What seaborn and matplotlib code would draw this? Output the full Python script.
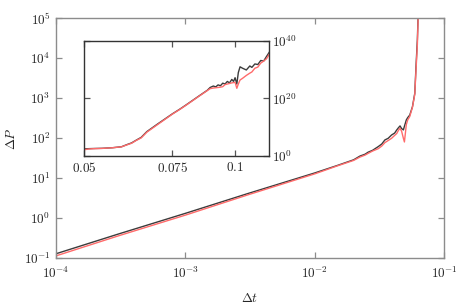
import numpy as np
import pandas as pd
import matplotlib
matplotlib.use("Agg")
import matplotlib.pyplot as plt
import matplotlib.ticker as mticker
import seaborn as sns

# ---- data ----
dt = [1e-4, 3e-4, 1e-3, 3e-3, 1e-2, 1.5e-2, 2.0e-2, 2.24e-2, 2.45e-2, 2.59e-2,
      2.8e-2, 3.1e-2, 3.3e-2, 3.49e-2, 3.7e-2, 3.93e-2, 4.15e-2, 4.31e-2, 4.45e-2,
      4.57e-2, 4.7e-2, 4.85e-2, 4.94e-2, 5.11e-2, 5.24e-2, 5.43e-2, 5.7e-2, 5.94e-2,
      6.07e-2, 6.22e-2, 6.35e-2, 6.5e-2, 6.67e-2, 7.0e-2, 7.5e-2, 7.77e-2, 8.0e-2,
      8.5e-2, 8.8e-2,
      0.0892, 0.0905, 0.0915, 0.0925, 0.0935, 0.0945, 0.0955, 0.0965, 0.0975,
      0.0985, 0.0993, 0.1000, 0.1008, 0.1015, 0.1023, 0.1035, 0.1053, 0.1070,
      0.1080, 0.1095, 0.1110, 0.1125, 0.1140, 0.1155, 0.1173]

dp_black = [0.13, 0.40, 1.33, 4.1, 13.6, 21, 29, 36, 40, 45,
            50, 62, 72, 91, 100, 121, 135, 162, 185,
            204, 175, 162, 200, 288, 330, 380, 615, 1330,
            6100, 2.9e4, 2.5e5, 2.5e6, 2.5e8, 1e11, 4e14, 2e16, 6.3e17,
            1e21, 6.3e22,
            6.3e23, 2e24, 1e24, 5e24, 2.5e24, 2e25, 1e25, 8e25, 2.5e25,
            4e26, 8e25, 1.6e27, 1e25, 1e29, 1e31, 3.2e30, 8e29, 2e31,
            6.3e30, 1e32, 6.3e31, 1.6e33, 1e33, 4e34, 2.5e36]

dp_red = [0.115, 0.36, 1.2, 3.8, 12.9, 20.5, 28, 34, 38, 42,
          48, 55, 64, 78, 88, 100, 118, 132, 160,
          178, 150, 100, 81, 220, 288, 350, 600, 1250,
          5000, 2.2e4, 2e5, 1.6e6, 1.6e8, 6.3e10, 3.2e14, 1.6e16, 5e17,
          8e20, 5e22,
          2.5e23, 4e23, 5e23, 6.3e23, 8e23, 1.2e24, 6.3e24, 1e25, 1.6e25,
          2.5e25, 3.2e25, 4e25, 3.2e23, 1e25, 2.5e26, 1e27, 1e28, 6.3e28,
          1.6e29, 3.2e30, 8e30, 2e32, 1e33, 6.3e33, 5e35]

series_names = ["black", "red"]
series_colors = ["#3c3c3c", "#ff6b6b"]

main_xticks = [1e-4, 1e-3, 1e-2, 1e-1]
main_yticks = [1e-1, 1e0, 1e1, 1e2, 1e3, 1e4, 1e5]
inset_xticks = [0.05, 0.075, 0.1]
inset_xticklabels = ["$0.05$", "$0.075$", "$0.1$"]
inset_yticks = [1e0, 1e20, 1e40]

df = pd.DataFrame({
    "dt": dt + dt,
    "dp": dp_black + dp_red,
    "series": [series_names[0]] * len(dt) + [series_names[1]] * len(dt),
})

sns.set_style("ticks")
plt.rcParams["mathtext.fontset"] = "cm"
plt.rcParams["font.family"] = ["DejaVu Serif"]

FS = 9.5


def pow10(v, pos):
    return r"$10^{%d}$" % int(round(np.log10(v)))


fig = plt.figure(figsize=(4.58, 3.07), dpi=100)
ax = fig.add_axes([0.1223, 0.1586, 0.8472, 0.7818])

sns.lineplot(data=df, x="dt", y="dp", hue="series", palette=series_colors,
             estimator=None, sort=False, linewidth=1.0, legend=False, ax=ax)
ax.set_xscale("log")
ax.set_yscale("log")
ax.set_xlim(1e-4, 1e-1)
ax.set_ylim(1e-1, 1e5)
ax.xaxis.set_major_locator(mticker.FixedLocator(main_xticks))
ax.yaxis.set_major_locator(mticker.FixedLocator(main_yticks))
ax.xaxis.set_major_formatter(mticker.FuncFormatter(pow10))
ax.yaxis.set_major_formatter(mticker.FuncFormatter(pow10))
ax.xaxis.set_minor_locator(mticker.NullLocator())
ax.yaxis.set_minor_locator(mticker.NullLocator())
gray = "#8c8c8c"
for s in ax.spines.values():
    s.set_visible(True)
    s.set_color(gray)
    s.set_linewidth(1.0)
ax.tick_params(which="both", direction="in", top=True, right=True,
               length=4, width=0.9, color=gray, labelsize=FS)
ax.tick_params(axis="x", pad=5)
ax.tick_params(axis="y", pad=4)
ax.set_xlabel(r"$\Delta t$", fontsize=FS, labelpad=8)
ax.set_ylabel(r"$\Delta P$", fontsize=FS, labelpad=4)

# ---- inset ----
axi = fig.add_axes([0.1834, 0.4928, 0.4046, 0.3736])
sns.lineplot(data=df, x="dt", y="dp", hue="series", palette=series_colors,
             estimator=None, sort=False, linewidth=1.0, legend=False, ax=axi)
axi.set_xscale("log")
axi.set_yscale("log")
axi.set_xlim(0.05, 0.117)
axi.set_ylim(1e0, 1e40)
axi.xaxis.set_major_locator(mticker.FixedLocator(inset_xticks))
axi.xaxis.set_major_formatter(mticker.FixedFormatter(inset_xticklabels))
axi.yaxis.set_major_locator(mticker.FixedLocator(inset_yticks))
axi.yaxis.set_major_formatter(mticker.FuncFormatter(pow10))
axi.xaxis.set_minor_locator(mticker.NullLocator())
axi.yaxis.set_minor_locator(mticker.NullLocator())
for s in axi.spines.values():
    s.set_visible(True)
    s.set_color("#333333")
    s.set_linewidth(1.0)
axi.tick_params(which="both", direction="in", top=True, right=True, left=True,
                labelleft=False, labelright=True, length=4, width=0.9,
                color="#555555", labelsize=FS)
axi.tick_params(axis="x", pad=4)
axi.tick_params(axis="y", pad=2)
axi.set_xlabel("")
axi.set_ylabel("")
axi.patch.set_facecolor("white")

fig.savefig("out.png", dpi=100)
